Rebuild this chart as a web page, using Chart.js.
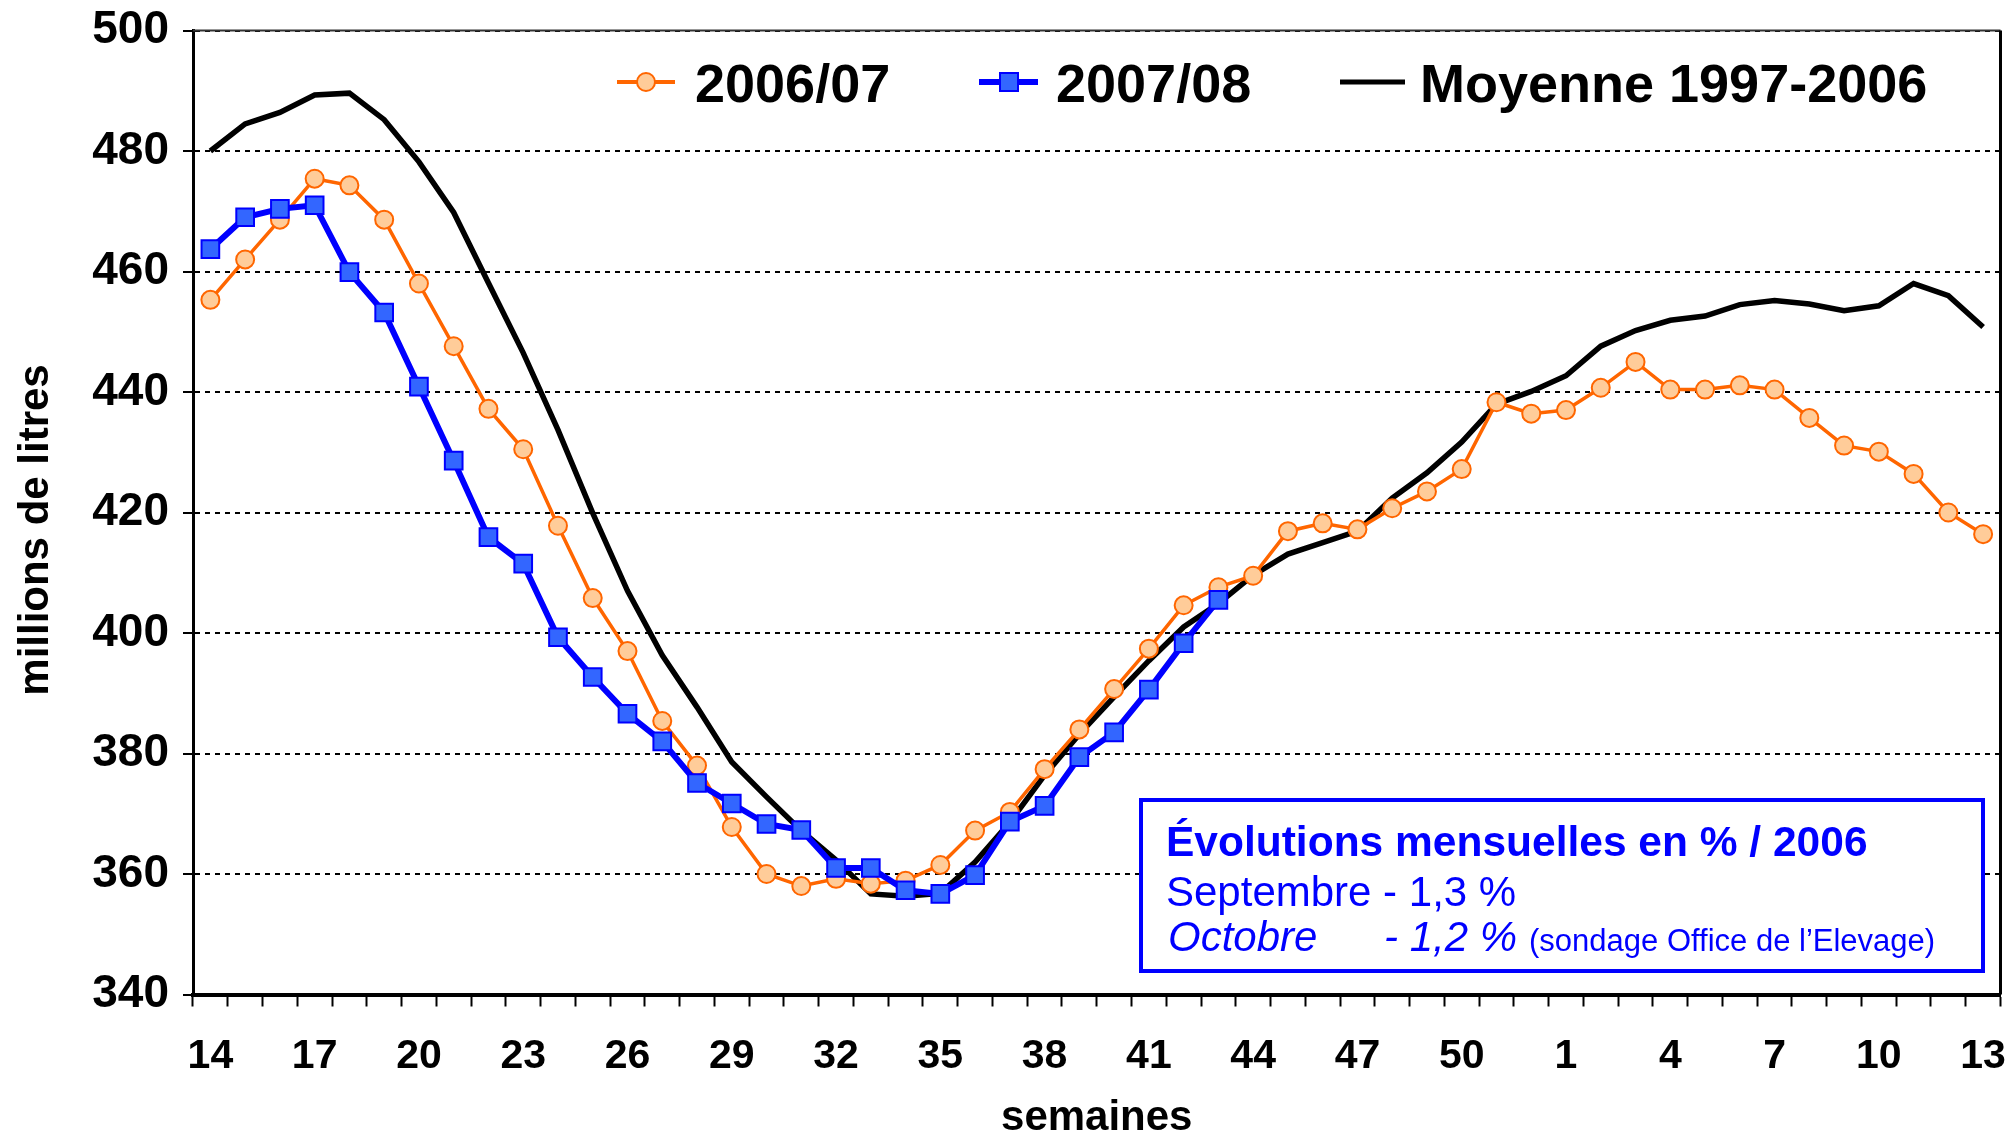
<!DOCTYPE html>
<html>
<head>
<meta charset="utf-8">
<script src="https://cdn.jsdelivr.net/npm/chart.js@4.4.0/dist/chart.umd.min.js"></script>
<style>
  html, body { margin: 0; padding: 0; background: #fff; }
  #wrap { width: 2015px; height: 1134px; }
</style>
</head>
<body>
<div id="wrap"><canvas id="chart" width="2015" height="1134"></canvas></div>
<script>
// Weeks: 14..52 then 1..13
const weeks = ['14','15','16','17','18','19','20','21','22','23','24','25','26','27','28','29','30',
  '31','32','33','34','35','36','37','38','39','40','41','42','43','44','45','46','47','48','49','50',
  '51','52','1','2','3','4','5','6','7','8','9','10','11','12','13'];

// millions de litres
const serie0607 = [455.3, 462.0, 468.6, 475.4, 474.3, 468.6, 458.0, 447.6, 437.2, 430.5,
  417.8, 405.8, 397.0, 385.4, 378.0, 367.8, 360.0, 358.0, 359.2, 358.4,
  358.9, 361.5, 367.2, 370.3, 377.4, 384.0, 390.7, 397.4, 404.6, 407.6,
  409.5, 416.9, 418.2, 417.2, 420.7, 423.5, 427.2, 438.3, 436.4, 437.0,
  440.7, 445.0, 440.4, 440.4, 441.1, 440.4, 435.7, 431.1, 430.1, 426.4,
  420.0, 416.4];

const serie0708 = [463.7, 469.0, 470.4, 471.0, 459.9, 453.2, 440.9, 428.6, 415.9, 411.5,
  399.3, 392.7, 386.6, 382.0, 375.1, 371.7, 368.3, 367.3, 361.0, 361.0,
  357.3, 356.7, 359.8, 368.7, 371.3, 379.4, 383.5, 390.6, 398.3, 405.5];

const moyenne = [480.0, 484.5, 486.4, 489.3, 489.6, 485.2, 478.2, 469.8, 458.1, 446.5,
  433.7, 419.9, 407.0, 396.3, 387.7, 378.6, 372.8, 367.2, 362.3, 356.7,
  356.3, 356.8, 362.0, 368.6, 376.4, 383.2, 389.4, 395.4, 401.0, 404.9,
  409.6, 413.1, 415.0, 416.9, 422.4, 426.6, 431.7, 438.0, 440.1, 442.7,
  447.6, 450.2, 451.9, 452.6, 454.5, 455.2, 454.6, 453.5, 454.3, 458.0,
  456.0, 450.8];

const yMin = 340, yMax = 500, yStep = 20;
const labelEvery = 3;

const FONT = '"Liberation Sans", Arial, sans-serif';

const colors = {
  orange: '#FF6600',
  orangeFill: '#FFCC99',
  blue: '#0000FF',
  blueFill: '#3366FF',
  black: '#000000'
};

// Frame, y title, legend + annotation box drawn on top of the plot
const overlayPlugin = {
  id: 'overlay',
  afterDraw(chart) {
    const ctx = chart.ctx;
    const a = chart.chartArea;
    ctx.save();

    // frame top / right
    ctx.strokeStyle = '#333';
    ctx.lineWidth = 2;
    ctx.beginPath();
    ctx.moveTo(a.left, a.top);
    ctx.lineTo(a.right, a.top);
    ctx.stroke();
    ctx.strokeStyle = '#000';
    ctx.lineWidth = 3;
    ctx.beginPath();
    ctx.moveTo(a.right, a.top);
    ctx.lineTo(a.right, a.bottom);
    ctx.stroke();

    // y axis title (placed a bit below the centre, as in the original)
    ctx.save();
    ctx.translate(36, 530);
    ctx.rotate(-Math.PI / 2);
    ctx.font = 'bold 42px ' + FONT;
    ctx.fillStyle = '#000';
    ctx.textAlign = 'center';
    ctx.textBaseline = 'middle';
    ctx.fillText('millions de litres', 0, 0);
    ctx.restore();

    // legend
    const ly = 82;
    ctx.font = 'bold 54px ' + FONT;
    ctx.fillStyle = '#000';
    ctx.textBaseline = 'alphabetic';

    ctx.strokeStyle = colors.orange;
    ctx.lineWidth = 4;
    ctx.beginPath(); ctx.moveTo(617, ly); ctx.lineTo(675, ly); ctx.stroke();
    ctx.beginPath(); ctx.arc(646, ly, 9, 0, Math.PI * 2);
    ctx.fillStyle = colors.orangeFill; ctx.fill();
    ctx.lineWidth = 2; ctx.stroke();
    ctx.fillStyle = '#000';
    ctx.fillText('2006/07', 695, 102);

    ctx.strokeStyle = colors.blue;
    ctx.lineWidth = 6;
    ctx.beginPath(); ctx.moveTo(979, ly); ctx.lineTo(1038, ly); ctx.stroke();
    ctx.fillStyle = colors.blueFill;
    ctx.fillRect(1000, ly - 9, 18, 18);
    ctx.lineWidth = 2;
    ctx.strokeRect(1000, ly - 9, 18, 18);
    ctx.fillStyle = '#000';
    ctx.fillText('2007/08', 1056, 102);

    ctx.strokeStyle = '#000';
    ctx.lineWidth = 5;
    ctx.beginPath(); ctx.moveTo(1340, ly); ctx.lineTo(1405, ly); ctx.stroke();
    ctx.fillText('Moyenne 1997-2006', 1420, 102);

    // annotation box
    ctx.fillStyle = '#fff';
    ctx.fillRect(1141, 800, 842, 171);
    ctx.strokeStyle = colors.blue;
    ctx.lineWidth = 4;
    ctx.strokeRect(1141, 800, 842, 171);

    ctx.fillStyle = colors.blue;
    ctx.font = 'bold 42.5px ' + FONT;
    ctx.fillText('Évolutions mensuelles en % / 2006', 1166, 856);
    ctx.font = '42px ' + FONT;
    ctx.fillText('Septembre - 1,3 %', 1166, 906);
    ctx.font = 'italic 42px ' + FONT;
    ctx.fillText('Octobre', 1168, 951);
    ctx.fillText('- 1,2 %', 1384, 951);
    ctx.font = '31px ' + FONT;
    ctx.fillText('(sondage Office de l\u2019Elevage)', 1529, 951);

    ctx.restore();
  }
};

new Chart(document.getElementById('chart'), {
  type: 'line',
  data: {
    labels: weeks,
    datasets: [
      {
        label: '2007/08',
        data: serie0708,
        borderColor: colors.blue,
        borderWidth: 6,
        pointStyle: 'rect',
        pointRadius: 12.5,
        pointBackgroundColor: colors.blueFill,
        pointBorderColor: colors.blue,
        pointBorderWidth: 2,
        tension: 0,
        order: 1
      },
      {
        label: '2006/07',
        data: serie0607,
        borderColor: colors.orange,
        borderWidth: 3.5,
        pointStyle: 'circle',
        pointRadius: 9,
        pointBackgroundColor: colors.orangeFill,
        pointBorderColor: colors.orange,
        pointBorderWidth: 2,
        tension: 0,
        order: 2
      },
      {
        label: 'Moyenne 1997-2006',
        data: moyenne,
        borderColor: colors.black,
        borderWidth: 5.5,
        pointRadius: 0,
        tension: 0,
        order: 3
      }
    ]
  },
  options: {
    responsive: false,
    animation: false,
    layout: { padding: { top: 30.5, right: 10, left: 0, bottom: 0 } },
    plugins: {
      legend: { display: false },
      tooltip: { enabled: false }
    },
    scales: {
      x: {
        offset: true,
        grid: {
          offset: true,
          drawOnChartArea: false,
          drawTicks: true,
          tickLength: 12,
          tickWidth: 2,
          tickColor: '#000'
        },
        border: { color: '#000', width: 4 },
        ticks: {
          autoSkip: false,
          maxRotation: 0,
          minRotation: 0,
          padding: 26,
          color: '#000',
          font: { family: FONT, size: 41, weight: 'bold' },
          callback: (v, i) => (i % labelEvery === 0 ? weeks[i] : '')
        },
        title: {
          display: true,
          text: 'semaines',
          color: '#000',
          font: { family: FONT, size: 42, weight: 'bold', lineHeight: 1 },
          padding: { top: 0, bottom: -5 }
        },
        afterFit: (s) => {
          s.height = 139.5;
          s.paddingLeft = 0;
          s.paddingRight = 0;
        }
      },
      y: {
        min: yMin,
        max: yMax,
        grid: {
          color: '#000',
          lineWidth: 2,
          tickLength: 10,
          tickWidth: 2,
          tickColor: '#000',
          tickBorderDash: []
        },
        border: { color: '#000', width: 3, dash: [5, 5] },
        ticks: {
          stepSize: yStep,
          padding: 14,
          color: '#000',
          font: { family: FONT, size: 46, weight: 'bold' }
        },
        afterFit: (s) => {
          s.width = 193;
          s.paddingTop = 0;
          s.paddingBottom = 0;
        }
      }
    }
  },
  plugins: [overlayPlugin]
});
</script>
</body>
</html>
